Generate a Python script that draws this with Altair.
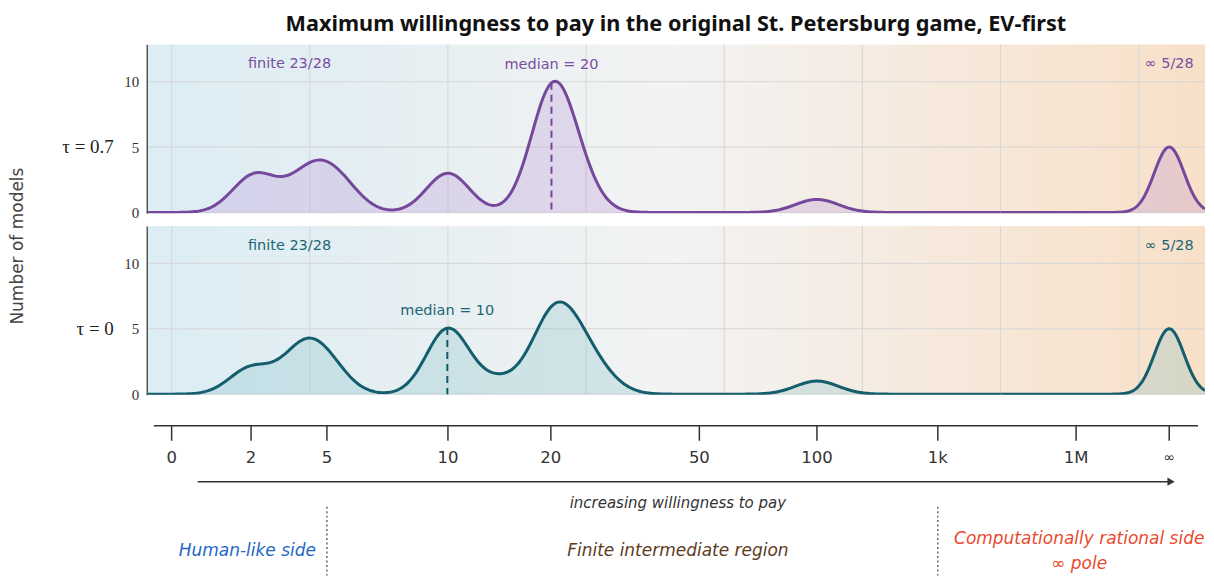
import math
import numpy as np
import pandas as pd
import altair as alt

INF = float("inf")

# ---------------- data ----------------
tick_labels = ["0", "2", "5", "10", "20", "50", "100", "1k", "1M", "∞"]
tick_values = [0, 2, 5, 10, 20, 50, 100, 1_000, 1_000_000, INF]
tick_pos = [0.0, 0.575, 1.124, 2.0, 2.745, 3.82, 4.671, 5.546, 6.547, 7.221]  # custom axis scale

# maximum willingness to pay of each of the 28 models
wtp_tau07 = [2, 2, 2.5, 4, 4.5, 4.5, 5.5, 5.5,
             10, 10, 10,
             20, 20, 20, 20, 20, 20, 20, 20, 22.5, 25, 25,
             100,
             INF, INF, INF, INF, INF]
wtp_tau0 = [2, 2, 4, 4, 4, 5, 5,
            10, 10, 10, 10, 10,
            15, 20, 20, 20, 20, 20, 25, 25, 25, 30,
            100,
            INF, INF, INF, INF, INF]

panel_names = ["τ = 0.7", "τ = 0"]
region_labels = ["Human-like side", "Finite intermediate region",
                 "Computationally rational side", "∞  pole"]
boundary_ticks = ["5", "1k"]
grid_u = [0, 1, 2, 3, 4, 5, 6, 7]
grid_y = [0, 5, 10]

# ---------------- helpers ----------------
X_DOMAIN = [-0.18, 7.48]
Y_DOMAIN = [-0.05, 12.85]
W, H = 1060, 169
BW_FIN, BW_INF = 0.155, 0.108
SPLIT = 6.0


def to_pos(v):
    if math.isinf(v):
        return tick_pos[-1]
    return float(np.interp(v, tick_values[:-1], tick_pos[:-1]))


xs = alt.Scale(domain=X_DOMAIN, nice=False, zero=False)
ys = alt.Scale(domain=Y_DOMAIN, nice=False, zero=False)
yaxis = alt.Axis(values=grid_y, grid=False, ticks=False, domain=True,
                 domainColor="#555555", domainWidth=1.5, labelFont="Liberation Serif",
                 labelFontSize=15, labelColor="#333333", labelPadding=8,
                 title=None, zindex=1)

gradient = alt.LinearGradient(
    gradient="linear",
    stops=[
        alt.GradientStop(offset=0.0, color="#dcedf5"),
        alt.GradientStop(offset=0.25, color="#e6eff2"),
        alt.GradientStop(offset=0.5, color="#f3f3f3"),
        alt.GradientStop(offset=0.75, color="#f6e9dc"),
        alt.GradientStop(offset=1.0, color="#f8e0c8"),
    ],
    x1=0, x2=1, y1=0, y2=0,
)

one = pd.DataFrame({"a": [0]})


def X(field):
    return alt.X(field, scale=xs, axis=None)


def Y(field):
    return alt.Y(field, scale=ys, axis=yaxis)


def density(df, bw, extent):
    return (
        alt.Chart(df)
        .transform_density("u", as_=["u", "density"], bandwidth=bw,
                           extent=extent, steps=500, counts=True)
        .transform_calculate(n=f"datum.density * {bw * math.sqrt(2 * math.pi)}")
    )


def panel(values, name, line_color, fill_color, text_color, first=False):
    fin = [v for v in values if not math.isinf(v)]
    n_inf = len(values) - len(fin)
    med = float(np.median(fin))
    med_u = to_pos(med)
    df_fin = pd.DataFrame({"u": [to_pos(v) for v in fin]})
    df_inf = pd.DataFrame({"u": [to_pos(v) for v in values if math.isinf(v)]})

    bg = alt.Chart(one).mark_rect(fill=gradient, strokeWidth=0).encode(
        x=alt.value(0), x2=alt.value(W), y=alt.value(0), y2=alt.value(H))
    vgrid = alt.Chart(pd.DataFrame({"g": grid_u})).mark_rule(
        color="#d6d6d6", strokeWidth=1).encode(x=X("g:Q"))
    hgrid = alt.Chart(pd.DataFrame({"g": grid_y})).mark_rule(
        color="#d6d6d6", strokeWidth=1).encode(y=Y("g:Q"))

    layers = [bg, vgrid, hgrid]
    for d in (density(df_fin, BW_FIN, [X_DOMAIN[0], SPLIT]),
              density(df_inf, BW_INF, [SPLIT, X_DOMAIN[1]])):
        layers.append(d.mark_area(color=fill_color, opacity=0.27, clip=True).encode(
            x=X("u:Q"), y=Y("n:Q")))
        layers.append(d.mark_line(color=line_color, strokeWidth=3, clip=True).encode(
            x=X("u:Q"), y=Y("n:Q")))

    at_med = (density(df_fin, BW_FIN, [X_DOMAIN[0], SPLIT])
              .transform_calculate(dist=f"abs(datum.u - {med_u})")
              .transform_joinaggregate(mind="min(dist)")
              .transform_filter("datum.dist == datum.mind"))
    layers.append(at_med.mark_rule(color=line_color, strokeWidth=2,
                                   strokeDash=[7, 5]).encode(
        x=X("u:Q"), y=Y("n:Q"), y2=alt.datum(0)))
    layers.append(at_med.mark_text(color=text_color, fontSize=14.5,
                                   font="DejaVu Sans", dy=-17.5).encode(
        x=X("u:Q"), y=Y("n:Q"), text=alt.value(f"median = {med:g}")))

    layers.append(alt.Chart(one).mark_text(
        color=text_color, fontSize=14.5, font="DejaVu Sans").encode(
        x=alt.value(143), y=alt.value(20),
        text=alt.value(f"finite {len(fin)}/{len(values)}")))
    layers.append(alt.Chart(one).mark_text(
        color=text_color, fontSize=14.5, font="DejaVu Sans", clip=True).encode(
        x=alt.X(datum=tick_pos[-1], scale=xs, axis=None), y=alt.value(20),
        text=alt.value(f"∞ {n_inf}/{len(values)}")))
    layers.append(alt.Chart(one).mark_text(
        color="#222222", fontSize=19, font="Liberation Serif", align="right",
        baseline="middle").encode(
        x=alt.value(-33), y=alt.Y(datum=5, scale=ys, axis=yaxis),
        text=alt.value(name)))
    if first:
        layers.append(alt.Chart(one).mark_text(
            color="#444444", fontSize=17, font="DejaVu Sans", angle=270,
            baseline="middle").encode(
            x=alt.value(-128.5), y=alt.value(202),
            text=alt.value("Number of models")))

    ch = alt.layer(*layers).properties(width=W, height=H)
    if first:
        ch = ch.properties(title=alt.Title(
            "Maximum willingness to pay in the original St. Petersburg game, EV-first",
            anchor="middle", frame="group", fontSize=21.7, fontWeight="bold",
            font="Noto Sans", color="#111111", offset=8))
    return ch


top = panel(wtp_tau07, panel_names[0], "#76489c", "#b48bd1", "#7a4fa0", first=True)
bottom = panel(wtp_tau0, panel_names[1], "#135d6c", "#7dbec4", "#1d6676")

# ---------------- custom x axis and region labels ----------------
ticks_df = pd.DataFrame({"label": tick_labels, "u": tick_pos})
bound_df = ticks_df[ticks_df["label"].isin(boundary_ticks)]
u5 = bound_df["u"].iloc[0]

axis_layers = [
    alt.Chart(one).mark_rule(color="#333333", strokeWidth=1.5).encode(
        x=alt.value(7), x2=alt.value(1053), y=alt.value(18)),
    alt.Chart(ticks_df).mark_rule(color="#333333", strokeWidth=1.5).encode(
        x=X("u:Q"), y=alt.value(18), y2=alt.value(33)),
    alt.Chart(ticks_df).mark_text(color="#333333", font="DejaVu Sans",
                                  baseline="middle").encode(
        x=X("u:Q"), y=alt.value(50), text="label:N",
        size=alt.condition("datum.label == '∞'", alt.value(14), alt.value(16.5))),
    alt.Chart(one).mark_rule(color="#333333", strokeWidth=1.5).encode(
        x=alt.value(51), x2=alt.value(1024), y=alt.value(74)),
    alt.Chart(one).mark_point(shape="triangle-right", filled=True, color="#333333",
                              size=70, opacity=1).encode(
        x=alt.value(1026), y=alt.value(74)),
    alt.Chart(one).mark_text(color="#333333", font="DejaVu Sans", fontSize=15,
                             fontStyle="italic").encode(
        x=alt.value(532), y=alt.value(95),
        text=alt.value("increasing willingness to pay")),
    alt.Chart(bound_df).mark_rule(color="#444444", strokeWidth=1.2,
                                  strokeDash=[2, 2.5], clip=True).encode(
        x=X("u:Q"), y=alt.value(99), y2=alt.value(175)),
    alt.Chart(one).mark_text(color="#2466c8", font="DejaVu Sans", fontSize=17,
                             fontStyle="italic", align="right", dx=-11,
                             clip=True).encode(
        x=alt.X(datum=u5, scale=xs, axis=None), y=alt.value(143),
        text=alt.value(region_labels[0])),
    alt.Chart(one).mark_text(color="#5c3b1e", font="DejaVu Sans", fontSize=17,
                             fontStyle="italic", clip=True).encode(
        x=alt.value(532), y=alt.value(143), text=alt.value(region_labels[1])),
    alt.Chart(one).mark_text(color="#ea4a2e", font="DejaVu Sans", fontSize=17,
                             fontStyle="italic", clip=True).encode(
        x=alt.value(934), y=alt.value(131), text=alt.value(region_labels[2])),
    alt.Chart(one).mark_text(color="#ea4a2e", font="DejaVu Sans", fontSize=17,
                             fontStyle="italic", clip=True).encode(
        x=alt.value(934), y=alt.value(156), text=alt.value(region_labels[3])),
]
axis_panel = alt.layer(*axis_layers).properties(width=W, height=168)

chart = (
    alt.vconcat(top, bottom, axis_panel, spacing=13, bounds="flush")
    .properties(padding={"left": 1, "top": 5, "right": 0, "bottom": 0})
    .configure_view(stroke=None)
)

chart.save("out.html", embed_options={"renderer": "svg", "actions": False})
